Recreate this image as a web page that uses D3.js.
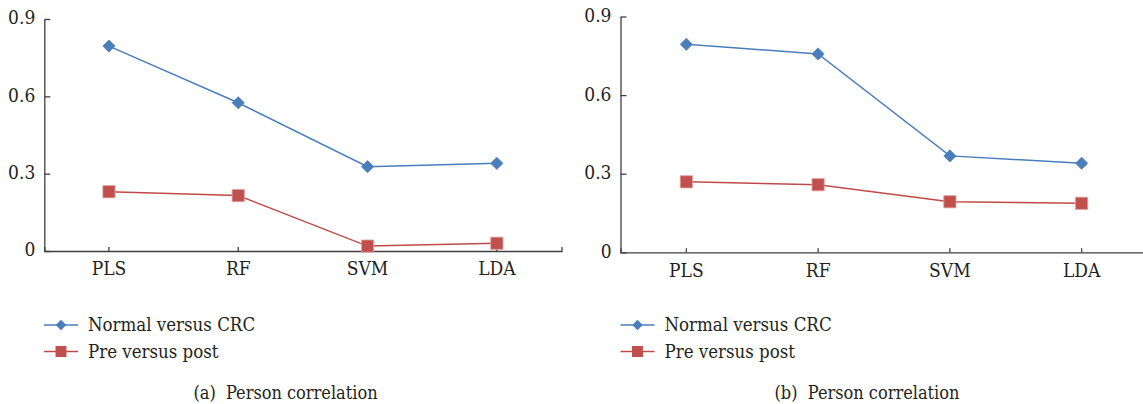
<!DOCTYPE html>
<html>
<head>
<meta charset="utf-8">
<script src="https://cdn.jsdelivr.net/npm/d3@7"></script>
<style>
  body { margin: 0; background: #fff; }
</style>
</head>
<body>
<div id="chart"></div>
<script>
// categories and tick labels
const methods = ["PLS", "RF", "SVM", "LDA"];
const yTicks = [0, 0.3, 0.6, 0.9];
const seriesNames = ["Normal versus CRC", "Pre versus post"];

// panel (a) values
const normalA = [0.795, 0.575, 0.327, 0.340];
const prepostA = [0.230, 0.215, 0.019, 0.030];

// panel (b) values
const normalB = [0.794, 0.757, 0.368, 0.340];
const prepostB = [0.269, 0.258, 0.193, 0.187];

const width = 1143,
  height = 404;

const font = "DejaVu Serif Condensed, DejaVu Serif";
const blue = "#4a7ebb",
  red = "#be4b48";

const svg = d3
  .select("#chart")
  .append("svg")
  .attr("width", width)
  .attr("height", height);

/* one panel: axes, two lines with markers, legend and caption */
const drawPanel = (opts, normal, prepost, caption) => {
  const g = svg.append("g");

  const xScale = d3.scaleBand(methods, [opts.left, opts.right]);
  const yScale = d3.scaleLinear([0, 0.9], [opts.bottom, opts.top]);

  const yAxis = d3
    .axisLeft(yScale)
    .tickValues(yTicks)
    .tickFormat((d) => (d === 0 ? "0" : d3.format(".1f")(d)))
    .tickSizeInner(-6)
    .tickSizeOuter(0)
    .tickPadding(9);

  const yGroup = g
    .append("g")
    .attr("transform", `translate(${opts.left},0)`)
    .call(yAxis);

  const xAxis = d3
    .axisBottom(xScale)
    .tickSizeInner(-4)
    .tickSizeOuter(-4)
    .tickPadding(11);

  const xGroup = g
    .append("g")
    .attr("transform", `translate(0,${opts.bottom})`)
    .call(xAxis);

  [xGroup, yGroup].forEach((a) => {
    a.attr("font-family", font).attr("font-size", 19);
    a.selectAll("path, line").attr("stroke", "#404040").attr("stroke-width", 1.3);
    a.selectAll("text").attr("fill", "#231f20");
  });
  yGroup.selectAll("text").attr("dy", "0.26em");

  const cx = (i) => xScale(methods[i]) + xScale.bandwidth() / 2;

  const line = d3
    .line()
    .x((d, i) => cx(i))
    .y((d) => yScale(d));

  const series = [
    { values: normal, color: blue, shape: "diamond" },
    { values: prepost, color: red, shape: "square" },
  ];

  const diamond = d3.symbol(d3.symbolSquare, 74);
  const square = d3.symbol(d3.symbolSquare, 150);

  series.forEach((s) => {
    g.append("path")
      .datum(s.values)
      .attr("fill", "none")
      .attr("stroke", s.color)
      .attr("stroke-width", 1.5)
      .attr("d", line);

    g.selectAll(null)
      .data(s.values)
      .join("path")
      .attr("d", s.shape === "diamond" ? diamond : square)
      .attr("transform", (d, i) =>
        s.shape === "diamond"
          ? `translate(${cx(i)},${yScale(d)}) rotate(45)`
          : `translate(${cx(i)},${yScale(d)})`
      )
      .attr("fill", s.shape === "diamond" ? "#4a7ebb" : "#c0504d")
      .attr("stroke", s.shape === "diamond" ? "#4f81bd" : "#e0a3a1")
      .attr("stroke-width", 0.8);
  });

  // Legend
  const legend = g.append("g").attr("transform", `translate(${opts.legendX},325)`);
  series.forEach((s, i) => {
    const row = legend.append("g").attr("transform", `translate(0,${i * 26.5})`);
    row
      .append("line")
      .attr("x1", 0)
      .attr("x2", 34)
      .attr("stroke", s.color)
      .attr("stroke-width", 1.5);
    row
      .append("path")
      .attr("d", s.shape === "diamond" ? d3.symbol(d3.symbolSquare, 56)() : d3.symbol(d3.symbolSquare, 120)())
      .attr("transform", s.shape === "diamond" ? "translate(17,0) rotate(45)" : "translate(17,0)")
      .attr("fill", s.shape === "diamond" ? "#4a7ebb" : "#c0504d");
    row
      .append("text")
      .attr("x", 44)
      .attr("dy", "0.33em")
      .attr("font-family", font)
      .attr("font-size", 18.5)
      .attr("fill", "#231f20")
      .text(seriesNames[i]);
  });

  // Caption
  g.append("text")
    .attr("x", opts.captionX)
    .attr("y", 399)
    .attr("text-anchor", "middle")
    .attr("font-family", font)
    .attr("font-size", 18)
    .style("white-space", "pre")
    .attr("fill", "#231f20")
    .text(caption);
};

drawPanel(
  { left: 44.3, right: 561.5, top: 19, bottom: 251, legendX: 44, captionX: 285.5 },
  normalA,
  prepostA,
  "(a)  Person correlation"
);

drawPanel(
  { left: 620.5, right: 1147.5, top: 16.5, bottom: 252.3, legendX: 620.5, captionX: 867 },
  normalB,
  prepostB,
  "(b)  Person correlation"
);
</script>
</body>
</html>
